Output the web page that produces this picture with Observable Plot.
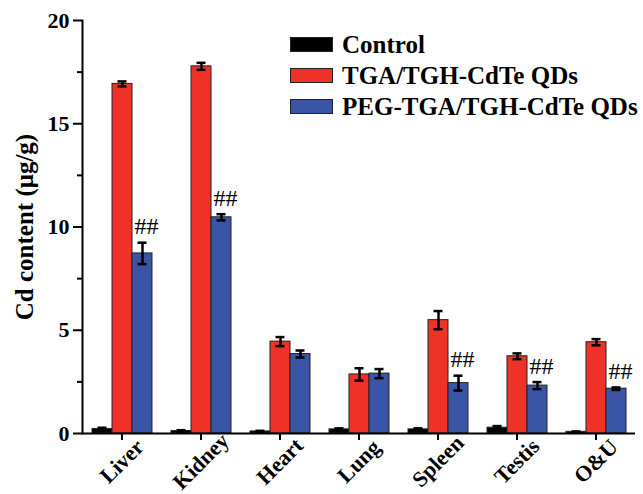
<!DOCTYPE html>
<html>
<head>
<meta charset="utf-8">
<script src="https://cdn.jsdelivr.net/npm/d3@7"></script>
<script src="https://cdn.jsdelivr.net/npm/@observablehq/plot@0.6"></script>
<style>
  html, body { margin: 0; padding: 0; background: #fff; }
  #wrap { position: relative; width: 643px; height: 494px; font-family: "Liberation Serif", "Times New Roman", serif; }
  .leg { position: absolute; left: 290px; display: flex; align-items: center; height: 15px; }
  .sw { width: 41px; height: 13px; border: 1px solid #222; }
  .lt { margin-left: 9px; font-size: 25px; font-weight: bold; line-height: 15px; white-space: nowrap; color: #000; }
</style>
</head>
<body>
<div id="wrap"></div>
<script>
const organs = ["Liver", "Kidney", "Heart", "Lung", "Spleen", "Testis", "O&U"];
const groups = ["Control", "TGA/TGH-CdTe QDs", "PEG-TGA/TGH-CdTe QDs"];
const colors = ["#000000", "#EE3228", "#3A55A5"];
const control    = [0.22, 0.12, 0.10, 0.20, 0.20, 0.28, 0.08];
const controlErr = [0.06, 0.04, 0.03, 0.05, 0.05, 0.08, 0.02];
const tga        = [16.93, 17.78, 4.45, 2.86, 5.49, 3.74, 4.42];
const tgaErr     = [0.12, 0.17, 0.22, 0.30, 0.44, 0.14, 0.15];
const peg        = [8.72, 10.47, 3.85, 2.90, 2.44, 2.32, 2.17];
const pegErr     = [0.52, 0.15, 0.17, 0.22, 0.36, 0.17, 0.06];
const pegSig     = ["##", "##", "", "", "##", "##", "##"];
const yMajor = [0, 5, 10, 15, 20];
const yMinor = [2.5, 7.5, 12.5, 17.5];
const yTitle = "Cd content (μg/g)";

const series = [[control, controlErr], [tga, tgaErr], [peg, pegErr]];
const data = organs.flatMap((o, i) => groups.map((g, j) => ({
  organ: o, group: g, value: series[j][0][i], err: series[j][1][i]
})));
const sigData = organs.map((o, i) => ({organ: o, group: groups[2], value: peg[i], err: pegErr[i], sig: pegSig[i]}))
  .filter(d => d.sig);

const font = "Liberation Serif";
const chart = Plot.plot({
  width: 643, height: 494,
  marginLeft: 80, marginRight: 7, marginTop: 20, marginBottom: 61,
  style: {fontFamily: font, background: "white", color: "black"},
  fx: {domain: organs, padding: 0, label: null},
  x: {domain: groups, paddingInner: 0, paddingOuter: 0.39, axis: null},
  y: {domain: [0, 20], axis: null},
  color: {domain: groups, range: colors},
  marks: [
    Plot.barY(data, {fx: "organ", x: "group", y: "value", fill: "group", stroke: "#222", strokeWidth: 1}),
    Plot.ruleX(data, {fx: "organ", x: "group", y1: d => d.value - d.err, y2: d => d.value + d.err, stroke: "#000", strokeWidth: 2.5}),
    Plot.tickY(data, {fx: "organ", x: "group", y: d => d.value + d.err, insetLeft: 5.5, insetRight: 5.5, stroke: "#000", strokeWidth: 2.5}),
    Plot.tickY(data, {fx: "organ", x: "group", y: d => d.value - d.err, insetLeft: 5.5, insetRight: 5.5, stroke: "#000", strokeWidth: 2.5}),
    Plot.text(sigData, {fx: "organ", x: "group", y: d => d.value + d.err, text: "sig", dy: -16, dx: 4, fontSize: 24, fontWeight: "normal", fill: "#000"}),
    Plot.ruleY([0], {stroke: "#000", strokeWidth: 2}),
    Plot.frame({anchor: "left", facetAnchor: "left", stroke: "#000", strokeWidth: 2}),
    Plot.axisY({ticks: yMajor, tickSize: 9, tickPadding: 4, strokeWidth: 2, fontSize: 22, fontWeight: "bold",
      tickFormat: d => String(d), label: yTitle, labelArrow: "none", labelAnchor: "center", labelOffset: 67}),
    Plot.axisY({ticks: yMinor, tickSize: 5, strokeWidth: 2, tickFormat: () => "", label: null}),
    Plot.axisFx({anchor: "bottom", tickSize: 7, strokeWidth: 2, tickPadding: 21, tickRotate: -45,
      textAnchor: "middle", lineAnchor: "middle", fontSize: 22, fontWeight: "bold", label: null})
  ]
});
const wrap = document.getElementById("wrap");
wrap.appendChild(chart);
// enlarge the y axis title
chart.querySelectorAll("text").forEach(t => {
  if (t.textContent.startsWith("Cd content")) { t.setAttribute("font-size", "25"); t.setAttribute("font-weight", "bold"); }
});
groups.forEach((g, i) => {
  const row = document.createElement("div");
  row.className = "leg";
  row.style.top = (37 + i * 31) + "px";
  const sw = document.createElement("div");
  sw.className = "sw";
  sw.style.background = colors[i];
  const lt = document.createElement("div");
  lt.className = "lt";
  lt.textContent = g;
  row.appendChild(sw); row.appendChild(lt);
  wrap.appendChild(row);
});
</script>
</body>
</html>
